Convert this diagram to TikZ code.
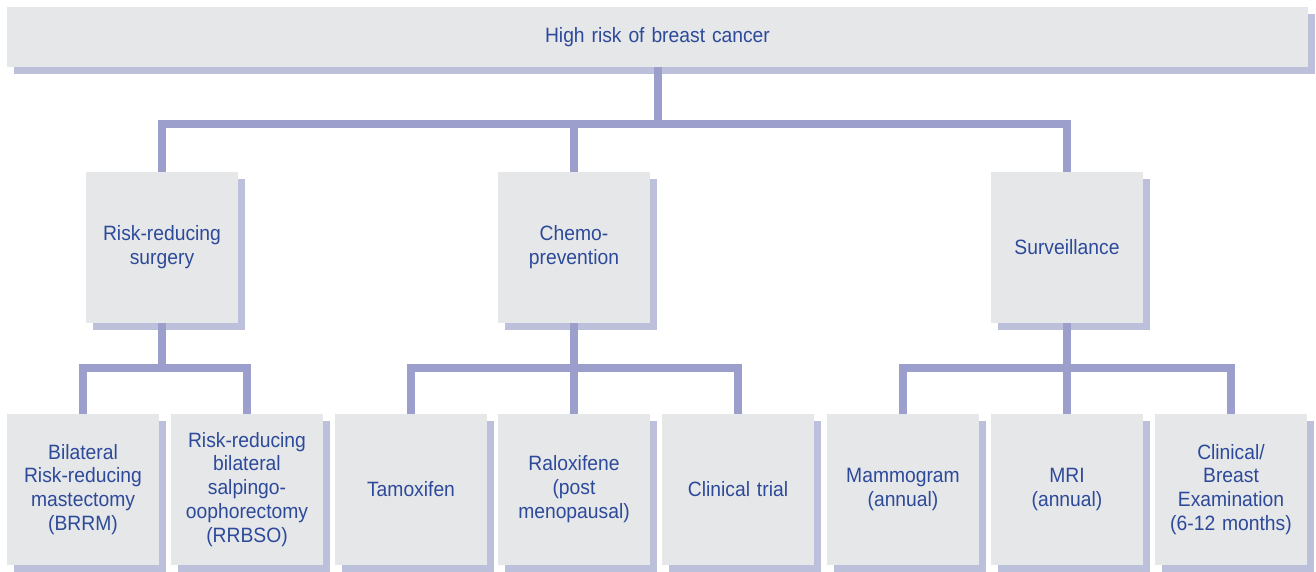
\documentclass[tikz,border=0pt]{standalone}
\usepackage{fontspec}
\setmainfont[FakeStretch=0.93]{Liberation Sans}
\usetikzlibrary{shadows}
\definecolor{boxgray}{HTML}{E6E7E9}
\definecolor{linkblue}{HTML}{9C9ECC}
\definecolor{shadowblue}{HTML}{BDC0DA}
\definecolor{textblue}{HTML}{2D4A9A}

\begin{document}
\begin{tikzpicture}[
	box/.style={fill=boxgray, text=textblue, align=center, inner sep=0pt,
		minimum width=3.04cm, minimum height=3.02cm, text width=2.9cm,
		font=\fontsize{11.8}{13.6}\selectfont,
		drop shadow={shadow xshift=0.14cm, shadow yshift=-0.15cm, fill=shadowblue, opacity=1}},
	link/.style={draw=linkblue, line width=0.16cm}]
	\useasboundingbox (0,0) rectangle (26.32,-11.44);
	\node[box, minimum width=26.02cm, minimum height=1.2cm, text width=20cm] (top) at (13.15,-0.74) {High risk of breast cancer};
	\node[box] (surgery) at (3.24,-4.95) {Risk-reducing\\surgery};
	\node[box] (chemo) at (11.48,-4.95) {Chemo-\\prevention};
	\node[box] (surv) at (21.34,-4.95) {Surveillance};
	\node[box] (brrm) at (1.66,-9.79) {Bilateral\\Risk-reducing\\mastectomy\\(BRRM)};
	\node[box] (rrbso) at (4.94,-9.79) {Risk-reducing\\bilateral\\salpingo-\\oophorectomy\\(RRBSO)};
	\node[box] (tamox) at (8.22,-9.79) {Tamoxifen};
	\node[box] (ralox) at (11.48,-9.79) {Raloxifene\\(post\\menopausal)};
	\node[box] (trial) at (14.76,-9.79) {Clinical trial};
	\node[box] (mammo) at (18.06,-9.79) {Mammogram\\(annual)};
	\node[box] (mri) at (21.34,-9.79) {MRI\\(annual)};
	\node[box] (exam) at (24.62,-9.79) {Clinical/\\Breast\\Examination\\(6-12 months)};
	% first level
	\coordinate (bar1) at (13.15,-2.48);
	\draw[link] (top.south) -- (bar1);
	\draw[link] (surgery.north) |- (bar1) -| (surv.north);
	\draw[link] (bar1) -| (chemo.north);
	% second level
	\draw[link] (surgery.south) -- ++(0,-0.9) coordinate (bar2);
	\draw[link] (brrm.north) |- (bar2) -| (rrbso.north);
	\draw[link] (chemo.south) -- ++(0,-0.9) coordinate (bar3);
	\draw[link] (tamox.north) |- (bar3) -| (trial.north);
	\draw[link] (bar3) -- (ralox.north);
	\draw[link] (surv.south) -- ++(0,-0.9) coordinate (bar4);
	\draw[link] (mammo.north) |- (bar4) -| (exam.north);
	\draw[link] (bar4) -- (mri.north);
\end{tikzpicture}
\end{document}
